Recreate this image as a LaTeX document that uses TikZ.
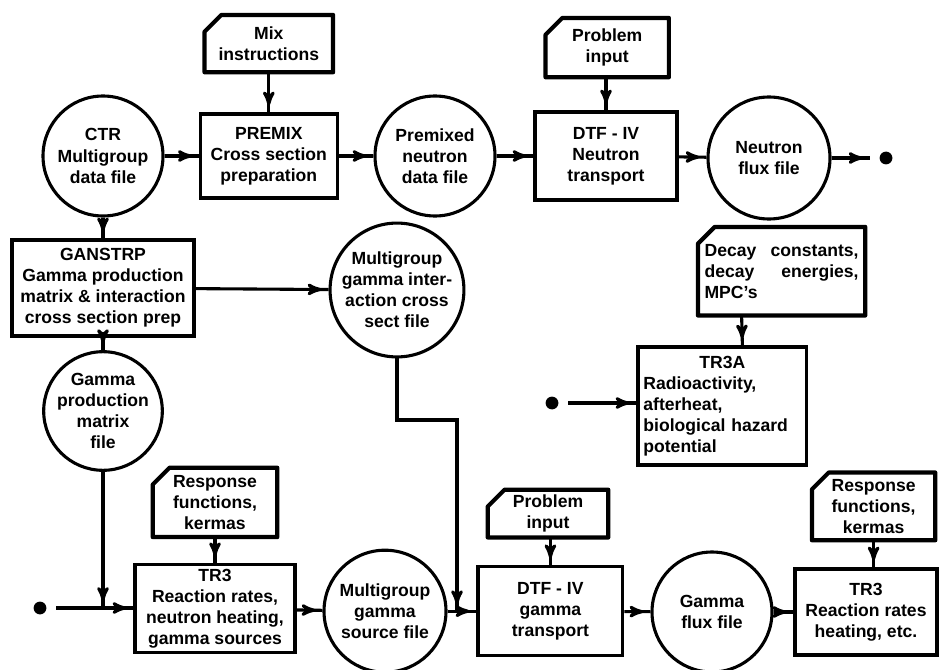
\documentclass[tikz,border=0pt]{standalone}
\usepackage{fontspec}
\setmainfont{Liberation Sans}
\usetikzlibrary{arrows,shapes,calc,positioning,decorations.markings}
\tikzset{
  >=stealth'
}

\begin{document}
\begin{tikzpicture}[
    every node/.style={font=\bfseries\fontsize{12.5}{15}\selectfont},
    prog/.style={rectangle,draw=black,line width=2.2pt,align=center,inner sep=2pt},
    datafile/.style={circle,draw=black,line width=2.2pt,align=center,inner sep=0pt},
    card/.style={rectangle,align=center,inner sep=1pt,
      append after command={\pgfextra{
        \draw[line width=3pt,line join=round]
          ([yshift=-0.42cm]\tikzlastnode.north west) -- ([xshift=0.42cm]\tikzlastnode.north west)
          -- (\tikzlastnode.north east) -- (\tikzlastnode.south east)
          -- (\tikzlastnode.south west) -- cycle;}}},
    term/.style={circle,fill=black,inner sep=0pt,minimum size=0.32cm,outer sep=0.25cm},
    flow/.style={line width=2.2pt,postaction={decorate},
      decoration={markings,mark=at position -0.18cm with {\arrow{>}}}}]
        \useasboundingbox (0, 0) rectangle (23.5, -16.75);

        % neutron chain
        \node (MIX) at (6.72, -1.09) [card, minimum width=3.2cm, minimum height=1.42cm] {Mix\\instructions};
        \node (CTR) at (2.575, -3.9) [datafile, minimum size=3.0cm] {CTR\\Multigroup\\data file};
        \node (PREMIX) at (6.72, -3.9) [prog, minimum width=3.42cm, minimum height=2.1cm] {PREMIX\\Cross section\\preparation};
        \node (PMX) at (10.875, -3.9) [datafile, minimum size=3.0cm] {Premixed\\neutron\\data file};
        \node (PROB1) at (15.18, -1.19) [card, minimum width=3.07cm, minimum height=1.47cm] {Problem\\input};
        \node (DTF1) at (15.15, -3.9) [prog, minimum width=3.55cm, minimum height=2.2cm] {DTF - IV\\Neutron\\transport};
        \node (NFLUX) at (19.225, -3.95) [datafile, minimum size=3.05cm] {Neutron\\flux file};
        \node (DOTN) at (22.15, -3.95) [term] {};

        % gamma cross sections
        \node (GAMSTRP) at (2.575, -7.2) [prog, minimum width=4.55cm, minimum height=2.4cm] {GANSTRP\\Gamma production\\matrix \& interaction\\cross section prep};
        \node (MGI) at (9.925, -7.25) [datafile, minimum size=3.05cm] {Multigroup\\gamma inter-\\action cross\\sect file};
        \node (GPROD) at (2.575, -10.275) [datafile, minimum size=2.9cm] {Gamma\\production\\matrix\\file};

        % activation
        \node (DECAY) at (19.54, -6.78) [card, minimum width=4.17cm, minimum height=2.2cm, text width=3.85cm, align=left] {Decay\hfill constants,\\decay\hfill energies,\\MPC's};
        \node (TR3A) at (18.06, -10.15) [prog, minimum width=4.22cm, minimum height=2.95cm, text width=3.95cm, align=left] {\hfill TR3A\hfill\null\\Radioactivity,\\afterheat,\\biological hazard\\potential};
        \node (DOTA) at (13.8, -10.075) [term] {};

        % gamma chain
        \node (DOTL) at (1.0, -15.2) [term] {};
        \coordinate (J1) at (2.575, -15.2);
        \node (RESPL) at (5.375, -12.56) [card, minimum width=3.1cm, minimum height=1.72cm] {Response\\functions,\\kermas};
        \node (TR3L) at (5.375, -15.22) [prog, minimum width=4.0cm, minimum height=2.2cm] {TR3\\Reaction rates,\\neutron heating,\\gamma sources};
        \node (MGSRC) at (9.625, -15.28) [datafile, minimum size=3.05cm] {Multigroup\\gamma\\source file};
        \coordinate (B2) at (11.425, -10.5);
        \coordinate (J2) at (11.425, -15.28);
        \node (PROB2) at (13.7, -12.84) [card, minimum width=3.0cm, minimum height=1.18cm] {Problem\\input};
        \node (DTF2) at (13.76, -15.28) [prog, minimum width=3.62cm, minimum height=2.22cm] {DTF - IV\\gamma\\transport};
        \node (GFLUX) at (17.8, -15.3) [datafile, minimum size=3.0cm] {Gamma\\flux file};
        \node (RESPR) at (21.84, -12.66) [card, minimum width=3.07cm, minimum height=1.68cm] {Response\\functions,\\kermas};
        \node (TR3R) at (21.65, -15.3) [prog, minimum width=3.55cm, minimum height=2.15cm] {TR3\\Reaction rates\\heating, etc.};

        \draw[flow] (MIX) -- (PREMIX);
        \draw[flow] (CTR) -- (PREMIX);
        \draw[flow] (PREMIX) -- (PMX);
        \draw[flow] (PMX) -- (DTF1);
        \draw[flow] (PROB1.south -| DTF1.north) -- (DTF1.north);
        \draw[flow] (DTF1) -- (NFLUX);
        \draw[flow] (NFLUX) -- (DOTN);

        \draw[flow] (CTR) -- (GAMSTRP);
        \draw[flow] (GAMSTRP) -- (MGI);
        \draw[flow] (GAMSTRP) -- (GPROD);

        \draw[flow] ([xshift=-1.0cm]DECAY.south) -- ([xshift=0.5cm]TR3A.north);
        \draw[flow] (DOTA) -- (DOTA -| TR3A.west);

        \draw[flow] (GPROD) -- (J1);
        \draw[flow] (DOTL) -- (DOTL -| TR3L.west);
        \draw[flow] (RESPL) -- (TR3L);
        \draw[flow] (TR3L) -- (MGSRC);
        \draw[flow] (MGI.south) |- (B2) -- (J2);
        \draw[flow] (MGSRC) -- (DTF2);
        \draw[flow] (PROB2.south -| DTF2.north) -- (DTF2.north);
        \draw[flow] (DTF2) -- (GFLUX);
        \draw[flow] (GFLUX) -- (GFLUX -| TR3R.west);
        \draw[flow] (RESPR.south) -- (RESPR.south |- TR3R.north);
    \end{tikzpicture}
\end{document}
